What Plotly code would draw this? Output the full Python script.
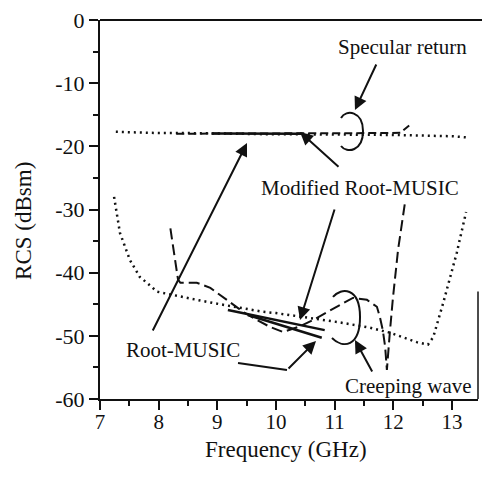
import plotly.graph_objects as go

# ---- data ----
spec_exact_x = [7.27, 7.6, 8.0, 8.5, 9.0, 9.5, 10.0, 10.5, 11.0, 11.5, 12.0, 12.5, 13.0, 13.28]
spec_exact_y = [-17.7, -17.8, -17.9, -17.9, -18.0, -18.0, -18.1, -18.1, -18.1, -18.1, -18.2, -18.3, -18.4, -18.6]

spec_rm_x = [8.3, 9.0, 10.0, 11.0, 11.8, 12.12, 12.27]
spec_rm_y = [-18.0, -18.0, -18.0, -17.95, -17.9, -17.85, -16.7]

spec_mod_x = [8.9, 9.5, 10.0, 10.45]
spec_mod_y = [-17.95, -17.95, -18.0, -18.0]

cw_exact_x = [7.24, 7.34, 7.51, 7.68, 7.80, 7.97, 8.07, 8.36, 8.65, 8.93, 9.22, 9.5, 9.78,
              10.0, 10.46, 11.04, 11.6, 11.94, 12.4, 12.59, 12.68, 12.85, 13.08, 13.24]
cw_exact_y = [-28.0, -33.7, -38.0, -40.7, -41.6, -43.0, -43.2, -43.8, -44.3, -44.8, -45.3, -45.7, -46.2,
              -46.4, -47.0, -47.8, -48.7, -49.5, -51.0, -51.4, -50.2, -44.8, -36.9, -30.4]

cw_rm_x = [8.2, 8.33, 8.37, 8.45, 8.65, 8.88, 9.16, 9.44, 9.68, 9.9, 10.12, 10.41, 10.63, 11.04,
           11.31, 11.55, 11.72, 11.77, 11.82, 11.86, 11.89, 11.94, 11.99, 12.08, 12.2]
cw_rm_y = [-33.0, -41.1, -41.6, -41.6, -41.6, -42.4, -44.3, -46.2, -47.5, -48.6, -49.4, -48.5, -47.5, -45.4,
           -44.0, -44.3, -45.4, -47.0, -49.1, -51.7, -55.4, -49.5, -44.3, -36.4, -28.8]

cw_mod_x = [9.18, 10.83]
cw_mod_y = [-45.9, -49.1]

cw_rmfit_x = [9.52, 10.78]
cw_rmfit_y = [-46.7, -50.3]

x_ticks = [7, 8, 9, 10, 11, 12, 13]
x_labels = ["7", "8", "9", "10", "11", "12", "13"]
y_ticks = [0, -10, -20, -30, -40, -50, -60]
y_labels = ["0", "-10", "-20", "-30", "-40", "-50", "-60"]

FONT = "Liberation Serif, Times New Roman, serif"
BLACK = "#111111"

fig = go.Figure()

def add_line(x, y, dash, width):
    fig.add_trace(go.Scatter(x=x, y=y, mode="lines", showlegend=False, hoverinfo="skip",
                             line=dict(color=BLACK, width=width, dash=dash)))

add_line(spec_exact_x, spec_exact_y, "2px,4px", 2.5)
add_line(cw_exact_x, cw_exact_y, "2px,4px", 2.5)
add_line(spec_rm_x, spec_rm_y, "8px,4px", 2)
add_line(cw_rm_x, cw_rm_y, "11px,5px", 2)
add_line(spec_mod_x, spec_mod_y, "solid", 2.5)
add_line(cw_mod_x, cw_mod_y, "solid", 2.5)
add_line(cw_rmfit_x, cw_rmfit_y, "solid", 2.5)

# ---- annotations ----
texts = [
    ("Specular return", 12.15, -4.27),
    ("Modified Root-MUSIC", 11.43, -26.6),
    ("Root-MUSIC", 8.415, -52.24),
    ("Creeping wave", 12.25, -57.94),
]
for t, x, y in texts:
    fig.add_annotation(x=x, y=y, text=t, showarrow=False, xref="x", yref="y",
                       font=dict(family=FONT, size=21, color=BLACK))

arrows = [
    (11.346, -14.25, 22, -47),
    (10.409, -17.73, 40, 36),
    (10.409, -47.49, 35, -112),
    (9.506, -19.47, -95, 189),
    (10.682, -50.82, -29, 29),
    (11.346, -50.66, 18, 33),
]
for x, y, ax, ay in arrows:
    fig.add_annotation(x=x, y=y, ax=ax, ay=ay, text="", showarrow=True, xref="x", yref="y",
                       arrowhead=2, arrowsize=1.3, arrowwidth=2, arrowcolor=BLACK, standoff=0)

# elbow segment of Root-MUSIC pointer
fig.add_shape(type="line", xref="x", yref="y", x0=9.352, y0=-54.30, x1=10.187, y1=-55.41,
              line=dict(color=BLACK, width=2))

# open loops
spec_loop = ("M 11.108,-15.51 C 11.193,-14.09 11.483,-14.41 11.483,-17.57 "
             "C 11.483,-20.74 11.21,-21.21 11.108,-19.95")
cw_loop = ("M 10.971,-43.85 C 11.108,-42.27 11.432,-42.27 11.432,-47.02 "
           "C 11.432,-51.76 11.142,-52.08 10.954,-50.34")
for p in (spec_loop, cw_loop):
    fig.add_shape(type="path", xref="x", yref="y", path=p, line=dict(color=BLACK, width=2))

# frame: top line reaching right edge, partial right line
fig.add_shape(type="line", xref="paper", yref="paper", x0=0, x1=1.02, y0=1, y1=1,
              line=dict(color=BLACK, width=2))
fig.add_shape(type="line", xref="paper", yref="y", x0=1, x1=1, y0=-43, y1=-60,
              line=dict(color=BLACK, width=1.5))

# axis titles
fig.add_annotation(x=0.492, y=-0.132, xref="paper", yref="paper", text="Frequency (GHz)",
                   showarrow=False, yanchor="middle", font=dict(family=FONT, size=23, color=BLACK))
fig.add_annotation(x=-0.201, y=0.47, xref="paper", yref="paper", text="RCS (dBsm)", textangle=-90,
                   showarrow=False, xanchor="center", yanchor="middle",
                   font=dict(family=FONT, size=23, color=BLACK))

fig.update_layout(
    width=482, height=479,
    margin=dict(l=100, r=4, t=20, b=80),
    paper_bgcolor="white", plot_bgcolor="white",
    xaxis=dict(range=[7, 13.443], tickvals=x_ticks, ticktext=x_labels, showgrid=False, zeroline=False,
               showline=True, linecolor=BLACK, linewidth=2, ticks="outside", ticklen=9, tickwidth=2,
               tickcolor=BLACK, tickfont=dict(family=FONT, size=21, color=BLACK), ticklabelstandoff=-6,
               minor=dict(dtick=0.5, tick0=7, ticks="outside", ticklen=5, tickwidth=1.5, tickcolor=BLACK)),
    yaxis=dict(range=[-60, 0], tickvals=y_ticks, ticktext=y_labels, showgrid=False, zeroline=False,
               showline=True, linecolor=BLACK, linewidth=2, ticks="outside", ticklen=9, tickwidth=2,
               tickcolor=BLACK, tickfont=dict(family=FONT, size=22, color=BLACK),
               minor=dict(dtick=5, tick0=0, ticks="outside", ticklen=5, tickwidth=1.5, tickcolor=BLACK)),
)

fig.write_html("out.html")
